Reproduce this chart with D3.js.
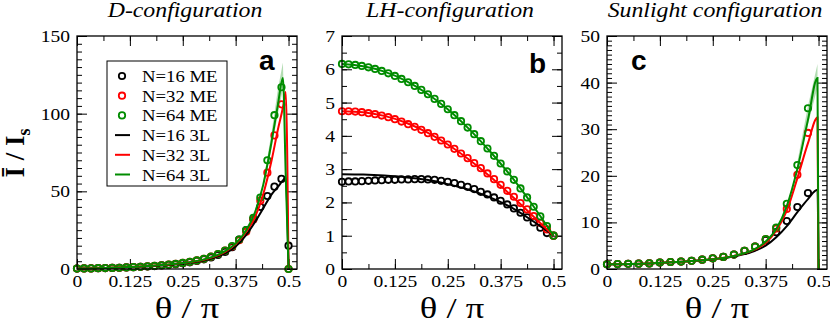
<!DOCTYPE html>
<html>
<head>
<meta charset="utf-8">
<script src="https://cdn.jsdelivr.net/npm/d3@7"></script>
<style>
  body { margin: 0; background: #fff; }
  svg { display: block; }
  .tick text { font-family: "Liberation Serif", "Times New Roman", serif; }
</style>
</head>
<body>
<div id="chart"></div>
<script>
// series colours
const cBlack = "#000000", cRed = "#ff0000", cGreen = "#008c00";

// ---- panel a : D-configuration ----
// ME points, theta/pi
const thetaA = [0, 0.0167, 0.0333, 0.05, 0.0667, 0.0833, 0.1, 0.1167, 0.1333, 0.15,
  0.1667, 0.1833, 0.2, 0.2167, 0.2333, 0.25, 0.2667, 0.2833, 0.3, 0.3167,
  0.3333, 0.35, 0.3667, 0.3833, 0.4, 0.4167, 0.4333, 0.45, 0.4667, 0.4833, 0.5];
const meA16 = [0.3, 0.35, 0.4, 0.5, 0.6, 0.7, 0.8, 1.0, 1.2, 1.4, 1.6, 1.9, 2.3, 2.7, 3.1, 3.7,
  4.3, 5.2, 6.2, 7.4, 9.0, 11, 14, 19, 25, 32, 40, 47, 53, 58, 15];
const meA32 = [0.3, 0.35, 0.4, 0.5, 0.6, 0.7, 0.8, 1.0, 1.2, 1.4, 1.7, 2.0, 2.4, 2.8, 3.3, 3.9,
  4.6, 5.5, 6.6, 8.0, 9.6, 11.8, 14.5, 18.5, 24, 32, 44, 62, 86, 106, 0];
const meA64 = [0.3, 0.35, 0.4, 0.5, 0.6, 0.7, 0.8, 1.0, 1.2, 1.4, 1.7, 2.0, 2.4, 2.8, 3.3, 3.9,
  4.6, 5.5, 6.6, 8.0, 9.6, 11.8, 14.8, 19, 25, 33, 46, 70, 99, 117, 0];
// 3L curves
const lineXA = [0, 0.05, 0.1, 0.15, 0.2, 0.25, 0.3, 0.325, 0.35, 0.375, 0.4, 0.42, 0.44, 0.46, 0.475, 0.4867, 0.4933, 0.5];
const tlA16 = [0.3, 0.5, 0.9, 1.4, 2.2, 3.4, 5.5, 7.3, 10, 14.5, 22, 30, 39, 48, 53, 57, 59, 0];
const tlA32 = [0.3, 0.5, 1.0, 1.6, 2.5, 3.8, 6.0, 8.0, 11, 16, 24, 33, 48, 70, 90, 104, 114, 0];
const tlA64 = [0.3, 0.5, 1.0, 1.6, 2.5, 3.8, 6.2, 8.3, 11.5, 16.5, 25, 36, 54, 82, 106, 123, 61, 0];
// spread of the N=64 3L curve near the peak
const bandXA = [0.44, 0.46, 0.475, 0.4867, 0.4933];
const bandLoA = [52, 78, 100, 116, 58];
const bandHiA = [56, 88, 116, 133, 66];

// ---- panel b : LH-configuration ----
const thetaB = [0, 0.0156, 0.0313, 0.0469, 0.0625, 0.0781, 0.0938, 0.1094, 0.125, 0.1406,
  0.1563, 0.1719, 0.1875, 0.2031, 0.2188, 0.2344, 0.25, 0.2656, 0.2813, 0.2969,
  0.3125, 0.3281, 0.3438, 0.3594, 0.375, 0.3906, 0.4063, 0.4219, 0.4375, 0.4531,
  0.4688, 0.4844, 0.5];
const meB16 = [2.62, 2.63, 2.63, 2.64, 2.65, 2.66, 2.67, 2.68, 2.68, 2.69, 2.69, 2.70, 2.70,
  2.69, 2.68, 2.65, 2.62, 2.58, 2.53, 2.47, 2.40, 2.32, 2.24, 2.15, 2.05, 1.94, 1.82,
  1.69, 1.55, 1.40, 1.24, 1.08, 1.00];
const meB32 = [4.74, 4.74, 4.73, 4.71, 4.68, 4.65, 4.61, 4.56, 4.50, 4.43, 4.35, 4.27, 4.18,
  4.08, 3.97, 3.86, 3.74, 3.61, 3.47, 3.33, 3.18, 3.03, 2.87, 2.70, 2.53, 2.35, 2.17,
  1.98, 1.79, 1.59, 1.39, 1.19, 1.00];
const meB64 = [6.16, 6.15, 6.13, 6.10, 6.06, 6.01, 5.95, 5.88, 5.80, 5.71, 5.61, 5.50, 5.38,
  5.25, 5.11, 4.96, 4.80, 4.62, 4.44, 4.25, 4.05, 3.84, 3.62, 3.40, 3.17, 2.93, 2.68,
  2.42, 2.15, 1.87, 1.58, 1.29, 1.00];
const lineXB = [0, 0.05, 0.1, 0.15, 0.2, 0.25, 0.3, 0.35, 0.4, 0.45, 0.5];
const tlB16 = [2.85, 2.84, 2.81, 2.76, 2.68, 2.55, 2.38, 2.15, 1.85, 1.45, 1.0];
const tlB32 = [4.74, 4.71, 4.60, 4.40, 4.11, 3.74, 3.29, 2.78, 2.21, 1.61, 1.0];
const tlB64 = [6.16, 6.09, 5.93, 5.66, 5.28, 4.80, 4.21, 3.53, 2.78, 1.93, 1.0];

// ---- panel c : Sunlight configuration ----
const thetaC = [0, 0.025, 0.05, 0.075, 0.1, 0.125, 0.15, 0.175, 0.2, 0.225,
  0.25, 0.275, 0.3, 0.325, 0.35, 0.375, 0.4, 0.425, 0.45, 0.475];
const meC16 = [1.0, 1.05, 1.1, 1.15, 1.2, 1.4, 1.5, 1.6, 1.75, 2.0, 2.3, 2.6, 3.1, 3.9, 4.8, 6.2, 7.9, 10.3, 13.3, 16.3];
const meC32 = [1.0, 1.05, 1.1, 1.15, 1.2, 1.4, 1.5, 1.6, 1.75, 2.0, 2.3, 2.6, 3.1, 3.9, 4.8, 6.4, 8.7, 12.9, 20.2, 29.2];
const meC64 = [1.0, 1.05, 1.1, 1.15, 1.2, 1.4, 1.5, 1.6, 1.75, 2.0, 2.3, 2.6, 3.1, 3.9, 4.8, 6.4, 8.9, 14.0, 22.3, 34.5];
const lineXC = [0, 0.1, 0.2, 0.25, 0.3, 0.35, 0.375, 0.4, 0.425, 0.45, 0.475, 0.4975, 0.5];
const tlC16 = [1.0, 1.2, 1.7, 2.1, 2.7, 3.9, 5.0, 6.8, 9.2, 12.2, 15, 17, 0];
const tlC32 = [1.0, 1.2, 1.7, 2.1, 2.8, 4.2, 5.6, 8.2, 12.5, 19.5, 27, 32.5, 0];
const tlC64 = [1.0, 1.2, 1.7, 2.1, 2.8, 4.3, 5.9, 8.6, 13.5, 21.5, 32, 41, 0];
const bandXC = [0.45, 0.475, 0.4975];
const bandLoC = [21, 31, 39];
const bandHiC = [23, 35, 44];

// ticks & labels
const xTicks = [0, 0.125, 0.25, 0.375, 0.5];
const xTickLabels = ["0", "0.125", "0.25", "0.375", "0.5"];
const titles = ["D-configuration", "LH-configuration", "Sunlight configuration"];
const letters = ["a", "b", "c"];
const legendLabels = ["N=16 ME", "N=32 ME", "N=64 ME", "N=16 3L", "N=32 3L", "N=64 3L"];

const W = 830, H = 323;
const plotTop = 36, plotBottom = 269, pw = 220;

const panels = [
  { left: 77, yMax: 150, yMajor: [0, 50, 100, 150], yMinor: 5,
    me: [[thetaA, meA16, cBlack], [thetaA, meA32, cRed], [thetaA, meA64, cGreen]],
    tl: [[lineXA, tlA16, cBlack], [lineXA, tlA32, cRed], [lineXA, tlA64, cGreen]],
    band: [bandXA, bandLoA, bandHiA], letterPos: [259, 70], legend: true },
  { left: 342, yMax: 7, yMajor: [0, 1, 2, 3, 4, 5, 6, 7], yMinor: 0.5,
    me: [[thetaB, meB16, cBlack], [thetaB, meB32, cRed], [thetaB, meB64, cGreen]],
    tl: [[lineXB, tlB16, cBlack], [lineXB, tlB32, cRed], [lineXB, tlB64, cGreen]],
    band: null, letterPos: [529, 73] },
  { left: 607, yMax: 50, yMajor: [0, 10, 20, 30, 40, 50], yMinor: 1,
    me: [[thetaC, meC16, cBlack], [thetaC, meC32, cRed], [thetaC, meC64, cGreen]],
    tl: [[lineXC, tlC16, cBlack], [lineXC, tlC32, cRed], [lineXC, tlC64, cGreen]],
    band: [bandXC, bandLoC, bandHiC], letterPos: [631, 70] }
];

const svg = d3.select("#chart").append("svg")
  .attr("width", W).attr("height", H);

const serif = "'Liberation Serif', 'Times New Roman', serif";
// the original figure's text is a little wider than its height suggests
const sx = 1.15;

panels.forEach((p, k) => {
  const x = d3.scaleLinear().domain([0, 0.52]).range([p.left, p.left + pw]);
  const y = d3.scaleLinear().domain([0, p.yMax]).range([plotBottom, plotTop]);
  const g = svg.append("g");

  const minorX = d3.range(0, 0.52, 0.0625);
  const minorY = d3.range(0, p.yMax + 1e-9, p.yMinor);

  // axes, ticks inward on all four sides
  const addAxis = (axis, tr, vals, size, labels) => {
    const a = axis.tickValues(vals).tickSizeInner(-size).tickSizeOuter(0).tickPadding(6);
    if (!labels) a.tickFormat("");
    else a.tickFormat((d, i) => labels[i]);
    const ag = g.append("g").attr("transform", tr).call(a);
    ag.select(".domain").remove();
    ag.selectAll(".tick line").attr("stroke", "#000").attr("stroke-width", 1);
    ag.selectAll(".tick text").attr("font-size", 17).attr("fill", "#000")
      .attr("transform", `scale(${sx},1)`);
    return ag;
  };
  addAxis(d3.axisBottom(x), `translate(0,${plotBottom})`, minorX, 5);
  addAxis(d3.axisTop(x), `translate(0,${plotTop})`, minorX, 5);
  addAxis(d3.axisBottom(x), `translate(0,${plotBottom})`, xTicks, 10, xTickLabels);
  addAxis(d3.axisTop(x), `translate(0,${plotTop})`, xTicks, 10);
  addAxis(d3.axisLeft(y), `translate(${p.left},0)`, minorY, 5);
  addAxis(d3.axisRight(y), `translate(${p.left + pw},0)`, minorY, 5);
  addAxis(d3.axisLeft(y), `translate(${p.left},0)`, p.yMajor, 10, p.yMajor.map(String));
  addAxis(d3.axisRight(y), `translate(${p.left + pw},0)`, p.yMajor, 10);

  // shaded spread
  if (p.band) {
    const [bx, lo, hi] = p.band;
    g.append("path")
      .datum(bx.map((v, i) => [v, lo[i], hi[i]]))
      .attr("fill", cGreen).attr("fill-opacity", 0.3)
      .attr("d", d3.area().x(d => x(d[0])).y0(d => y(d[1])).y1(d => y(d[2])));
  }

  // ME circles
  p.me.forEach(([xs, ys, col]) => {
    g.append("g").selectAll("circle")
      .data(xs.map((v, i) => [v, ys[i]]))
      .join("circle")
      .attr("cx", d => x(d[0])).attr("cy", d => y(d[1])).attr("r", 3.2)
      .attr("fill", "none").attr("stroke", col).attr("stroke-width", 1.8);
  });

  // 3L lines
  p.tl.forEach(([xs, ys, col]) => {
    g.append("path")
      .datum(xs.map((v, i) => [v, ys[i]]))
      .attr("fill", "none").attr("stroke", col).attr("stroke-width", 2)
      .attr("d", d3.line().x(d => x(d[0])).y(d => y(d[1])).curve(d3.curveMonotoneX));
  });

  // frame
  g.append("rect")
    .attr("x", p.left).attr("y", plotTop).attr("width", pw).attr("height", plotBottom - plotTop)
    .attr("fill", "none").attr("stroke", "#000").attr("stroke-width", 1.3);

  // panel title
  svg.append("text")
    .attr("transform", `translate(${p.left + pw / 2 - 2},17) scale(1.19,1)`)
    .attr("text-anchor", "middle")
    .attr("font-family", serif).attr("font-style", "italic").attr("font-size", 20)
    .text(titles[k]);

  // panel letter
  svg.append("text")
    .attr("x", p.letterPos[0]).attr("y", p.letterPos[1])
    .attr("font-family", "'Liberation Sans', Arial, sans-serif")
    .attr("font-weight", "bold").attr("font-size", 28)
    .text(letters[k]);

  // x axis title
  svg.append("text")
    .attr("transform", `translate(${p.left + pw / 2},318) scale(1.22,1)`)
    .attr("text-anchor", "middle")
    .attr("font-family", serif).attr("font-size", 30)
    .text("θ / π");

  // legend
  if (p.legend) {
    const lg = svg.append("g");
    lg.append("rect").attr("x", 107).attr("y", 61).attr("width", 120).attr("height", 125)
      .attr("fill", "#fff").attr("stroke", "#000").attr("stroke-width", 1);
    const cols = [cBlack, cRed, cGreen, cBlack, cRed, cGreen];
    legendLabels.forEach((lab, i) => {
      const ly = 76 + i * 19.7;
      if (i < 3) {
        lg.append("circle").attr("cx", 122).attr("cy", ly).attr("r", 3.2)
          .attr("fill", "none").attr("stroke", cols[i]).attr("stroke-width", 1.8);
      } else {
        lg.append("line").attr("x1", 115).attr("x2", 130).attr("y1", ly).attr("y2", ly)
          .attr("stroke", cols[i]).attr("stroke-width", 2);
      }
      lg.append("text").attr("transform", `translate(142,${ly + 6}) scale(1.1,1)`)
        .attr("font-family", serif).attr("font-size", 17)
        .text(lab);
    });
  }
});

// y axis title
svg.append("text")
  .attr("transform", "translate(24,153) rotate(-90)")
  .attr("text-anchor", "middle")
  .attr("font-family", serif).attr("font-weight", "bold").attr("font-size", 27)
  .call(t => {
    t.append("tspan").text("Ī / I");
    t.append("tspan").attr("font-size", 18).attr("dy", 6).text("s");
  });
</script>
</body>
</html>
